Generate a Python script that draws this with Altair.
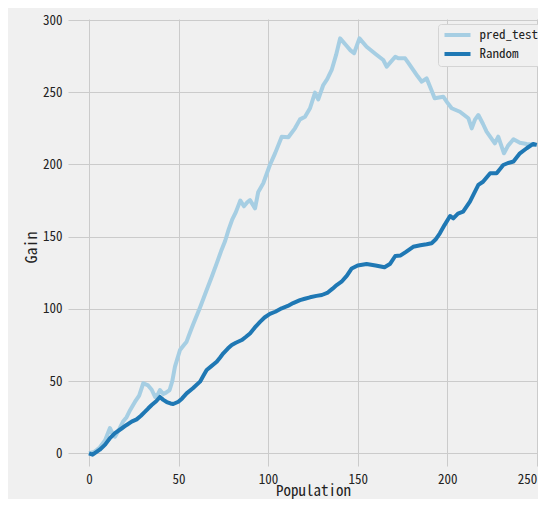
import altair as alt
import pandas as pd

# Series
pred_x = [0, 3, 6, 9, 11.7, 13, 14.5, 17, 19, 21, 23, 25.7, 28, 30.3, 33, 35, 36.9, 38.5, 39.6,
          41.5, 43, 45, 46.5, 48, 50.8, 53, 54.5, 56.5, 58.4, 62, 65.7, 68.5, 71.3, 74, 76, 78,
          80, 82, 84.5, 86.5, 88.5, 89.9, 92.7, 94.5, 97.3, 101, 104, 107.6, 111.3, 115, 117.8,
          120.6, 123.4, 126.2, 128, 130.8, 133, 135.5, 138, 140.2, 143.9, 146, 148, 151, 155,
          160, 164.3, 166.2, 171, 172.7, 176.5, 178.5, 181, 183.5, 185.8, 188.5, 191, 193,
          197.8, 200, 202.5, 207.1, 211.8, 213.7, 215.5, 217.4, 220, 222, 226.6, 228.5, 231.7,
          234, 237, 240.6, 244.4, 250]
pred_y = [0, 1, 4, 9, 17.5, 14, 11.5, 17, 22, 25, 30, 35.7, 40, 48.5, 47, 44, 39, 41, 43.8,
          41, 42, 43.8, 50, 60, 71.5, 75, 77.3, 84, 90, 101, 113, 122, 131.5, 140.8, 147, 155,
          162, 167, 175, 171, 174, 175.3, 169.6, 181, 187, 199.6, 208, 219.2, 218.8, 225, 231.2,
          233, 238.9, 249.7, 245, 255, 259, 265.4, 276, 287.3, 282, 279, 277, 287.3, 281.5,
          276.5, 272.3, 267.7, 274.6, 273.5, 273.5, 270, 265.4, 261, 257.3, 259.6, 252, 245.8,
          246.9, 243, 238.9, 236.5, 232, 225, 231, 234.2, 228, 222.7, 214.6, 219.2, 207.7,
          213, 217.4, 215, 214.2, 213.5]

rand_x = [0, 2, 6, 9, 11.7, 14.5, 18, 21, 23.8, 26.6, 29, 31.3, 33, 35, 37.5, 39.6, 41.5, 43.4,
          45.5, 47, 49.9, 52, 54.5, 58, 62, 64, 65.7, 68, 71.3, 73, 75, 77.5, 79.7, 82, 85.3,
          87.5, 89.9, 92.5, 95.5, 98, 101, 104, 107.6, 111, 114, 117.8, 120.5, 123.4, 127, 130,
          133, 136, 138.3, 141, 144, 146.7, 150, 155, 160, 165, 168, 171, 174, 177, 181, 185,
          188.5, 191.3, 193.5, 195.9, 198.5, 201.6, 203.4, 206, 208.9, 212.7, 215, 217.4, 220,
          222, 224, 227.6, 231.3, 234, 237, 240.6, 244.4, 248, 250]
rand_y = [0, -1, 2.5, 6, 10.5, 14, 17, 19.6, 21.9, 23.5, 26, 28.8, 31, 33.4, 36, 39, 37, 35.5,
          34.5, 34.1, 35.7, 38, 41.5, 45, 49.6, 54, 57.7, 60, 63.4, 66, 69.2, 72.5, 75, 76.5, 78.4,
          80.5, 83, 87, 91, 94, 96.5, 98, 100.4, 102, 104, 106, 107, 108, 109, 109.6,
          111, 114, 116.5, 118.8, 123, 128, 130, 131, 130, 128.8, 131, 136.6, 137, 139.5, 143, 144,
          144.7, 145.4, 148, 152.3, 158, 164.3, 162.7, 166, 167.3, 174.2, 180, 185.8, 188,
          191, 193.9, 193.9, 199.6, 201, 202, 207.7, 211.2, 214.2, 213.5]

series_names = ["pred_test", "Random"]
series_colors = ["#a6cee3", "#1f78b4"]
x_ticks = [0, 50, 100, 150, 200, 250]
y_ticks = [0, 50, 100, 150, 200, 250, 300]

df_pred = pd.DataFrame({"Population": pred_x, "Gain": pred_y, "series": series_names[0]})
df_rand = pd.DataFrame({"Population": rand_x, "Gain": rand_y, "series": series_names[1]})

FONT = "Noto Sans Mono CJK SC, DejaVu Sans Mono, monospace"

xenc = alt.X("Population:Q",
             scale=alt.Scale(domain=[-11.73, 250.7], nice=False, zero=False),
             axis=alt.Axis(values=x_ticks, title="Population", grid=True, domain=False,
                           ticks=False, labelPadding=7, labelFontSize=13,
                           labelAlign={"expr": "datum.value == 250 ? 'right' : 'center'"},
                           titleFontSize=15, titleFontWeight="normal",
                           titleX=245, titleY=24, titleBaseline="middle", titleAlign="center"))
yenc = alt.Y("Gain:Q",
             scale=alt.Scale(domain=[-8.8, 300.7], nice=False, zero=False),
             axis=alt.Axis(values=y_ticks, title="Gain", grid=True, domain=False,
                           ticks=False, labelPadding=6, labelFontSize=13,
                           titleFontSize=16, titleFontWeight="normal",
                           titleX=-37, titleY=228, titleAngle=-90,
                           titleBaseline="middle", titleAlign="center"))
cenc = alt.Color("series:N",
                 scale=alt.Scale(domain=series_names, range=series_colors),
                 legend=alt.Legend(orient="none", legendX=370, legendY=5, title=None,
                                   symbolType="stroke", symbolSize=676, symbolStrokeWidth=4,
                                   clipHeight=13, labelFontSize=13, labelOffset=7,
                                   padding=4.5, rowPadding=5,
                                   strokeColor="#d4d4d4", fillColor="#f0f0f0",
                                   cornerRadius=3))

line_pred = alt.Chart(df_pred).mark_line(strokeWidth=4, strokeJoin="round").encode(
    x=xenc, y=yenc, color=cenc)
line_rand = alt.Chart(df_rand).mark_line(strokeWidth=4, strokeJoin="round").encode(
    x=xenc, y=yenc, color=cenc)

chart = alt.layer(line_pred, line_rand).properties(
    width=470, height=447,
    background="#f0f0f0",
    padding={"left": 60, "top": 11, "right": 0, "bottom": 33},
    autosize=alt.AutoSizeParams(type="none"),
).configure_view(
    fill="#f0f0f0", stroke=None
).configure_axis(
    gridColor="#cbcbcb", gridWidth=1, labelColor="#222222", titleColor="#222222",
    labelFont=FONT, titleFont=FONT
).configure_legend(
    labelFont=FONT, labelColor="#222222"
)

chart.save("out.html", embed_options={"renderer": "svg", "actions": False})
